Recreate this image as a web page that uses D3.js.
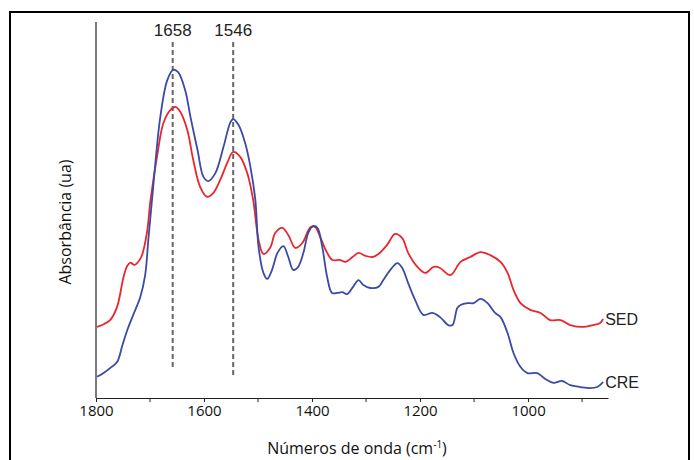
<!DOCTYPE html>
<html>
<head>
<meta charset="utf-8">
<script src="https://cdn.jsdelivr.net/npm/d3@7"></script>
<style>
  body { margin: 0; background: #fff; }
  svg { display: block; }
</style>
</head>
<body>
<div id="chart"></div>
<script>
// wavenumbers (cm-1) and absorbance (arbitrary units)
var creWave = [1798, 1786, 1774, 1761, 1751, 1742, 1731, 1718, 1709, 1703, 1694, 1681, 1668, 1657, 1648, 1635, 1625, 1612, 1601, 1592, 1579, 1564, 1551, 1546, 1536, 1524, 1514, 1505, 1499, 1490, 1483, 1474, 1464, 1453, 1444, 1435, 1427, 1416, 1407, 1398, 1390, 1381, 1372, 1363, 1353, 1344, 1335, 1324, 1314, 1305, 1292, 1277, 1268, 1255, 1242, 1233, 1222, 1209, 1194, 1177, 1163, 1148, 1140, 1131, 1125, 1112, 1101, 1088, 1075, 1061, 1051, 1038, 1027, 1014, 1001, 983, 968, 953, 937, 922, 903, 885, 872, 861];
var creAbs = [0.056, 0.066, 0.079, 0.095, 0.140, 0.180, 0.220, 0.267, 0.325, 0.420, 0.560, 0.743, 0.841, 0.868, 0.862, 0.815, 0.743, 0.656, 0.585, 0.574, 0.595, 0.664, 0.730, 0.738, 0.722, 0.675, 0.611, 0.524, 0.399, 0.331, 0.315, 0.339, 0.384, 0.402, 0.373, 0.339, 0.344, 0.384, 0.437, 0.455, 0.450, 0.399, 0.320, 0.278, 0.278, 0.280, 0.275, 0.294, 0.312, 0.299, 0.291, 0.294, 0.312, 0.339, 0.357, 0.344, 0.304, 0.259, 0.220, 0.225, 0.214, 0.193, 0.193, 0.238, 0.246, 0.251, 0.251, 0.262, 0.251, 0.225, 0.214, 0.172, 0.119, 0.082, 0.066, 0.066, 0.050, 0.040, 0.045, 0.034, 0.029, 0.026, 0.029, 0.042];

var sedWave = [1798, 1774, 1761, 1749, 1742, 1736, 1729, 1718, 1712, 1705, 1699, 1686, 1675, 1662, 1653, 1644, 1631, 1620, 1607, 1594, 1583, 1570, 1557, 1546, 1533, 1520, 1509, 1499, 1490, 1477, 1468, 1455, 1444, 1431, 1418, 1403, 1394, 1385, 1372, 1362, 1348, 1338, 1325, 1314, 1301, 1288, 1277, 1261, 1246, 1233, 1222, 1205, 1190, 1175, 1163, 1144, 1125, 1107, 1088, 1070, 1051, 1038, 1027, 1014, 996, 977, 959, 940, 922, 898, 880, 867, 861];
var sedAbs = [0.188, 0.206, 0.241, 0.320, 0.350, 0.358, 0.352, 0.368, 0.392, 0.444, 0.524, 0.648, 0.728, 0.762, 0.770, 0.757, 0.709, 0.630, 0.558, 0.532, 0.542, 0.577, 0.622, 0.651, 0.638, 0.595, 0.524, 0.418, 0.381, 0.399, 0.437, 0.450, 0.431, 0.397, 0.410, 0.452, 0.452, 0.426, 0.384, 0.365, 0.365, 0.360, 0.373, 0.384, 0.376, 0.373, 0.381, 0.405, 0.434, 0.423, 0.384, 0.347, 0.331, 0.347, 0.344, 0.325, 0.360, 0.373, 0.386, 0.378, 0.360, 0.331, 0.286, 0.251, 0.233, 0.225, 0.206, 0.206, 0.193, 0.188, 0.193, 0.198, 0.209];

var majorTicks = [1800, 1600, 1400, 1200, 1000];
var minorTicks = [1700, 1500, 1300, 1100, 900];
var peaks = [1658, 1546];
var peakEnds = [0.08, 0.058];

var svgWidth = 694;
var svgHeight = 460;

var margin = { top: 20, right: 86, bottom: 62, left: 96 };
var width = svgWidth - margin.left - margin.right;
var height = svgHeight - margin.top - margin.bottom;

var svg = d3.select("#chart")
  .append("svg")
  .attr("width", svgWidth)
  .attr("height", svgHeight);

// outer frame
svg.append("rect")
  .attr("x", 10)
  .attr("y", 12)
  .attr("width", 679)
  .attr("height", 460)
  .attr("fill", "none")
  .attr("stroke", "#000")
  .attr("stroke-width", 2);

var chartGroup = svg.append("g")
  .attr("transform", `translate(${margin.left}, ${margin.top})`);

var xScale = d3.scaleLinear()
  .domain([1800, 852])
  .range([0, width]);

var yScale = d3.scaleLinear()
  .domain([0, 1])
  .range([height, 0]);

// y axis line only
chartGroup.append("line")
  .attr("x1", 0).attr("x2", 0)
  .attr("y1", 2).attr("y2", height)
  .attr("stroke", "#222")
  .attr("stroke-width", 1.2);

var bottomAxis = d3.axisBottom(xScale)
  .tickValues(majorTicks)
  .tickSize(4)
  .tickSizeOuter(0)
  .tickPadding(3)
  .tickFormat(d3.format("d"));

var xAxis = chartGroup.append("g")
  .attr("transform", `translate(0, ${height})`)
  .call(bottomAxis);

xAxis.select(".domain").attr("stroke", "#222").attr("stroke-width", 1.2);
xAxis.selectAll(".tick line").attr("stroke", "#222");
xAxis.selectAll("text")
  .attr("font-family", "'Open Sans', sans-serif")
  .attr("font-size", "15px")
  .attr("fill", "#111");

chartGroup.append("g")
  .attr("transform", `translate(0, ${height})`)
  .selectAll("line")
  .data(minorTicks)
  .enter()
  .append("line")
  .attr("x1", d => xScale(d))
  .attr("x2", d => xScale(d))
  .attr("y1", 0)
  .attr("y2", 4)
  .attr("stroke", "#222");

// peak markers
chartGroup.selectAll(".peak")
  .data(peaks)
  .enter()
  .append("line")
  .attr("class", "peak")
  .attr("x1", d => xScale(d))
  .attr("x2", d => xScale(d))
  .attr("y1", 22)
  .attr("y2", (d, i) => yScale(peakEnds[i]))
  .attr("stroke", "#666")
  .attr("stroke-width", 2)
  .attr("stroke-dasharray", "5,3");

chartGroup.selectAll(".peak-label")
  .data(peaks)
  .enter()
  .append("text")
  .attr("class", "peak-label")
  .attr("x", d => xScale(d))
  .attr("y", 16)
  .attr("text-anchor", "middle")
  .attr("font-family", "'Liberation Sans', Arial, sans-serif")
  .attr("font-size", "17px")
  .attr("fill", "#222")
  .text(d => d);

var line = d3.line()
  .x(d => xScale(d[0]))
  .y(d => yScale(d[1]))
  .curve(d3.curveCatmullRom.alpha(0.5));

var sedData = sedWave.map((w, i) => [w, sedAbs[i]]);
var creData = creWave.map((w, i) => [w, creAbs[i]]);

chartGroup.append("path")
  .datum(sedData)
  .attr("d", line)
  .attr("fill", "none")
  .attr("stroke", "#e8262c")
  .attr("stroke-width", 1.8);

chartGroup.append("path")
  .datum(creData)
  .attr("d", line)
  .attr("fill", "none")
  .attr("stroke", "#3a4aa6")
  .attr("stroke-width", 1.8);

// series labels at the right end
var seriesLabels = [["SED", sedData], ["CRE", creData]];
chartGroup.selectAll(".series-label")
  .data(seriesLabels)
  .enter()
  .append("text")
  .attr("class", "series-label")
  .attr("x", d => xScale(d[1][d[1].length - 1][0]) + 2)
  .attr("y", d => yScale(d[1][d[1].length - 1][1]) + 6)
  .attr("font-family", "'Liberation Sans', Arial, sans-serif")
  .attr("font-size", "16px")
  .attr("fill", "#222")
  .text(d => d[0]);

// axis titles
var xTitle = svg.append("text")
  .attr("x", 357)
  .attr("y", 454)
  .attr("text-anchor", "middle")
  .attr("font-family", "'Open Sans', sans-serif")
  .attr("font-size", "16px")
  .attr("fill", "#111");
xTitle.append("tspan").text("Números de onda (cm");
xTitle.append("tspan").attr("font-size", "10px").attr("dy", "-6").text("-1");
xTitle.append("tspan").attr("dy", "6").text(")");

svg.append("text")
  .attr("transform", "translate(71, 222) rotate(-90)")
  .attr("text-anchor", "middle")
  .attr("font-family", "'Open Sans', sans-serif")
  .attr("font-size", "16px")
  .attr("fill", "#111")
  .text("Absorbância (ua)");
</script>
</body>
</html>
